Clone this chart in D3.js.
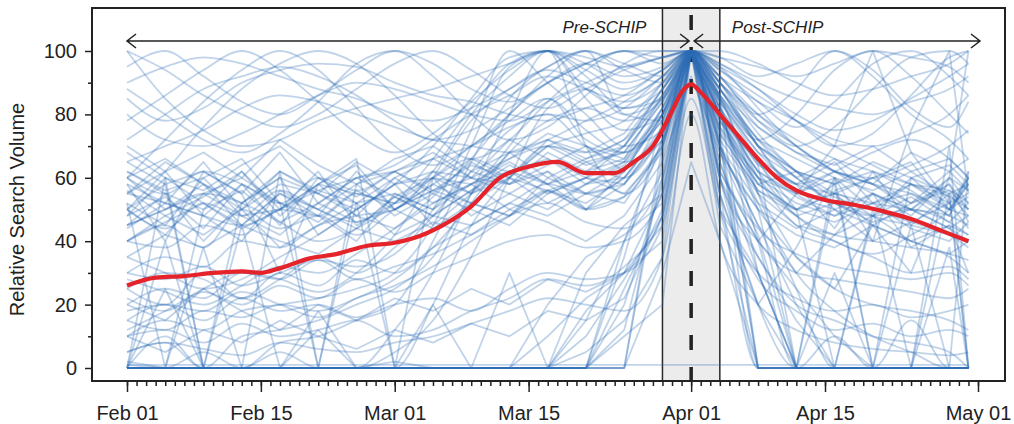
<!DOCTYPE html>
<html>
<head>
<meta charset="utf-8">
<script src="https://cdn.jsdelivr.net/npm/d3@7"></script>
<style>
  body { margin: 0; background: #fff; }
  svg { display: block; font-family: "Liberation Sans", Arial, Helvetica, sans-serif; }
  .tick line { stroke: #222; stroke-width: 1.5; }
  .tick text { fill: #222; font-size: 20px; }
</style>
</head>
<body>
<svg id="chart" width="1014" height="424"></svg>
<script>
'use strict';

// ---- Data -------------------------------------------------------------------

// Sampling days for the individual search-term series (2009).
const sampleDays = [
  '2009-02-01', '2009-02-05', '2009-02-09', '2009-02-13', '2009-02-17', '2009-02-21',
  '2009-02-25', '2009-03-01', '2009-03-05', '2009-03-09', '2009-03-13', '2009-03-17',
  '2009-03-21', '2009-03-25', '2009-03-29', '2009-04-01', '2009-04-04', '2009-04-08',
  '2009-04-12', '2009-04-16', '2009-04-20', '2009-04-24', '2009-04-28', '2009-04-30'
];

// Terms that sit at zero most of the time and spike.
const zeroSpikeSeries = [
  [0, 0, 0, 45, 0, 0, 0, 0, 0, 0, 0, 0, 0, 25, 50, 100, 65, 30, 0, 0, 0, 0, 0, 0],
  [0, 60, 0, 0, 0, 0, 52, 0, 0, 0, 0, 0, 15, 40, 62, 100, 70, 45, 20, 0, 0, 0, 55, 0],
  [2, 0, 0, 0, 0, 0, 0, 0, 0, 0, 30, 0, 0, 0, 70, 100, 72, 0, 0, 0, 0, 0, 0, 0],
  [0, 0, 38, 0, 0, 0, 0, 0, 0, 0, 0, 0, 0, 20, 58, 100, 80, 50, 0, 0, 0, 45, 0, 0],
  [0, 0, 0, 0, 0, 0, 0, 0, 0, 0, 0, 10, 22, 30, 40, 100, 60, 35, 15, 0, 0, 0, 0, 0],
  [1, 0, 0, 0, 0, 0, 0, 2, 0, 0, 0, 0, 0, 0, 66, 100, 75, 0, 0, 30, 0, 0, 0, 0],
  [0, 0, 0, 0, 62, 0, 0, 0, 0, 0, 0, 0, 30, 45, 55, 100, 62, 40, 25, 10, 0, 0, 0, 62],
  [0, 0, 0, 0, 0, 0, 0, 0, 20, 0, 0, 0, 0, 0, 30, 65, 40, 0, 0, 0, 0, 0, 0, 0],
  [0, 25, 0, 0, 0, 0, 0, 0, 0, 0, 0, 0, 0, 40, 72, 100, 55, 20, 0, 0, 0, 0, 0, 0],
  [0, 0, 0, 0, 0, 18, 0, 0, 0, 0, 0, 0, 10, 28, 48, 100, 68, 42, 0, 0, 0, 0, 38, 0],
  [0, 0, 0, 0, 0, 0, 0, 0, 0, 0, 0, 0, 0, 35, 78, 100, 84, 0, 0, 0, 0, 0, 0, 0],
  [0, 0, 0, 0, 0, 0, 0, 0, 0, 0, 0, 20, 35, 42, 52, 100, 50, 30, 0, 0, 50, 0, 0, 0],
  [1, 1, 1, 1, 1, 1, 1, 1, 1, 1, 1, 1, 1, 1, 1, 1, 1, 1, 1, 1, 1, 1, 1, 1],
  [0, 40, 0, 0, 0, 0, 0, 0, 0, 0, 0, 0, 0, 12, 60, 100, 85, 30, 0, 0, 0, 0, 0, 0]
];

// Terms that climb through March, peak mid-month and again on Apr 01.
const riserSeries = [
  [10, 15, 12, 18, 20, 22, 25, 30, 45, 70, 95, 100, 85, 75, 80, 100, 85, 60, 45, 40, 35, 30, 32, 28],
  [0, 0, 5, 0, 8, 10, 15, 20, 40, 65, 85, 95, 100, 80, 78, 100, 90, 70, 55, 50, 45, 40, 35, 30],
  [25, 20, 30, 22, 28, 35, 30, 38, 50, 75, 100, 90, 80, 70, 75, 100, 80, 65, 50, 55, 48, 45, 42, 40],
  [5, 8, 0, 10, 12, 15, 20, 25, 35, 55, 70, 85, 75, 68, 80, 100, 88, 72, 60, 52, 48, 50, 46, 42],
  [0, 0, 0, 0, 0, 0, 0, 0, 20, 45, 60, 70, 65, 60, 75, 100, 70, 50, 35, 25, 20, 18, 15, 12],
  [30, 35, 32, 40, 38, 45, 48, 50, 62, 80, 92, 100, 88, 82, 85, 100, 92, 80, 70, 62, 58, 55, 50, 48],
  [15, 12, 18, 16, 20, 18, 22, 28, 38, 52, 68, 78, 82, 78, 85, 100, 95, 82, 70, 62, 55, 50, 44, 40],
  [0, 10, 0, 0, 5, 0, 0, 12, 30, 55, 80, 100, 70, 55, 70, 100, 60, 35, 20, 15, 10, 8, 5, 0],
  [40, 38, 45, 42, 50, 48, 55, 52, 60, 70, 78, 85, 72, 68, 82, 100, 85, 68, 58, 55, 52, 50, 48, 45],
  [20, 25, 22, 30, 28, 34, 32, 36, 48, 62, 75, 80, 70, 65, 72, 100, 78, 60, 48, 42, 40, 38, 36, 34],
  [35, 30, 25, 28, 35, 42, 50, 58, 70, 85, 98, 100, 92, 82, 88, 100, 82, 62, 48, 40, 36, 42, 50, 58],
  [12, 18, 25, 30, 28, 24, 30, 42, 60, 78, 88, 94, 90, 86, 92, 100, 90, 74, 62, 54, 50, 46, 42, 38],
  [45, 50, 55, 52, 46, 40, 44, 52, 66, 82, 96, 100, 94, 88, 94, 100, 88, 70, 58, 62, 68, 72, 66, 60],
  [0, 0, 0, 0, 0, 0, 0, 5, 15, 35, 60, 82, 88, 80, 86, 100, 80, 52, 30, 18, 10, 5, 0, 0],
  [28, 24, 20, 26, 32, 30, 36, 44, 54, 66, 80, 90, 96, 92, 95, 100, 94, 86, 78, 70, 64, 58, 54, 50],
  [55, 52, 48, 45, 50, 56, 60, 64, 72, 80, 86, 92, 88, 84, 90, 100, 90, 80, 72, 66, 62, 58, 56, 52]
];

// Noisy terms hovering around 40-70.
const midBandSeries = [
  [55, 62, 48, 58, 45, 60, 52, 55, 50, 58, 62, 55, 60, 65, 78, 100, 80, 62, 55, 60, 50, 58, 52, 55],
  [60, 50, 58, 45, 55, 48, 62, 50, 56, 52, 48, 60, 55, 62, 80, 100, 75, 58, 62, 50, 55, 48, 60, 52],
  [45, 55, 40, 52, 60, 42, 50, 58, 45, 55, 60, 52, 58, 60, 75, 100, 82, 65, 50, 58, 62, 45, 55, 48],
  [52, 45, 60, 48, 50, 62, 45, 52, 60, 48, 55, 62, 50, 58, 72, 100, 85, 70, 60, 52, 48, 60, 50, 58],
  [65, 58, 62, 55, 68, 52, 60, 62, 55, 65, 58, 68, 62, 70, 85, 100, 78, 60, 55, 62, 58, 52, 62, 56],
  [40, 48, 42, 50, 38, 45, 52, 42, 48, 45, 52, 48, 55, 52, 70, 100, 72, 55, 45, 42, 48, 40, 45, 42],
  [58, 52, 65, 50, 58, 55, 48, 60, 52, 58, 65, 58, 50, 62, 80, 100, 88, 72, 62, 55, 60, 65, 50, 60],
  [48, 60, 52, 45, 55, 50, 58, 48, 55, 50, 45, 55, 60, 55, 68, 100, 76, 60, 52, 48, 55, 50, 58, 46],
  [62, 55, 50, 62, 48, 58, 55, 52, 62, 60, 55, 50, 58, 65, 82, 100, 82, 64, 58, 65, 52, 55, 48, 62],
  [50, 42, 55, 60, 52, 48, 40, 55, 50, 62, 58, 62, 55, 58, 74, 100, 80, 58, 50, 55, 45, 52, 56, 50],
  [55, 65, 58, 52, 62, 55, 65, 58, 60, 55, 62, 58, 65, 68, 84, 100, 86, 70, 62, 58, 65, 60, 55, 58],
  [35, 42, 38, 45, 40, 36, 44, 40, 46, 42, 50, 46, 40, 48, 65, 92, 68, 50, 42, 38, 45, 40, 36, 40],
  [70, 62, 68, 60, 72, 64, 58, 66, 70, 62, 68, 72, 66, 70, 86, 100, 90, 76, 68, 64, 70, 62, 66, 60],
  [45, 50, 55, 48, 42, 52, 46, 50, 44, 52, 48, 56, 50, 54, 70, 100, 74, 56, 48, 52, 46, 50, 44, 48],
  [58, 40, 62, 55, 30, 58, 64, 50, 58, 66, 60, 70, 64, 68, 84, 100, 84, 66, 58, 44, 62, 56, 48, 60],
  [50, 58, 0, 52, 60, 55, 50, 58, 62, 55, 68, 60, 66, 72, 88, 100, 80, 64, 0, 56, 60, 52, 58, 50],
  [62, 56, 60, 66, 52, 0, 58, 62, 56, 64, 60, 72, 68, 74, 90, 100, 88, 70, 62, 58, 0, 60, 64, 58],
  [44, 52, 48, 40, 56, 50, 44, 54, 48, 56, 64, 58, 62, 66, 80, 100, 76, 58, 50, 46, 52, 44, 40, 46],
  [56, 48, 54, 62, 50, 58, 66, 0, 60, 58, 66, 74, 70, 62, 82, 100, 86, 72, 66, 60, 56, 62, 54, 0],
  [68, 60, 56, 64, 70, 60, 54, 62, 68, 60, 72, 66, 60, 70, 88, 100, 92, 78, 70, 62, 58, 68, 62, 66],
  [40, 46, 52, 44, 50, 58, 48, 44, 52, 58, 50, 56, 60, 58, 74, 100, 70, 52, 44, 50, 40, 46, 52, 44],
  [52, 0, 50, 56, 46, 52, 60, 54, 48, 56, 62, 66, 58, 64, 78, 100, 74, 56, 50, 0, 48, 54, 46, 52],
  [60, 66, 58, 50, 62, 56, 52, 60, 66, 60, 58, 64, 70, 66, 86, 100, 84, 68, 60, 66, 58, 50, 60, 56],
  [48, 54, 44, 58, 52, 46, 56, 50, 58, 52, 60, 56, 52, 60, 76, 100, 78, 62, 54, 48, 52, 58, 50, 54]
];

// Low, smooth terms.
const lowSeries = [
  [18, 20, 15, 22, 18, 20, 16, 20, 22, 18, 25, 30, 28, 30, 45, 85, 50, 30, 22, 18, 20, 16, 18, 20],
  [10, 12, 8, 14, 10, 12, 15, 10, 12, 18, 22, 28, 26, 32, 48, 90, 55, 28, 18, 12, 14, 10, 12, 10],
  [22, 18, 24, 20, 26, 22, 28, 24, 30, 35, 40, 42, 38, 40, 55, 100, 60, 40, 30, 28, 26, 24, 22, 25],
  [5, 8, 6, 4, 8, 6, 5, 8, 10, 14, 18, 22, 20, 18, 35, 80, 40, 20, 12, 8, 6, 5, 4, 5],
  [30, 28, 32, 26, 30, 34, 28, 32, 36, 42, 48, 52, 46, 44, 60, 100, 65, 44, 36, 32, 30, 28, 30, 26]
];

// High, slowly varying terms.
const highSeries = [
  [100, 85, 75, 70, 72, 78, 82, 85, 88, 92, 96, 100, 98, 95, 98, 100, 96, 90, 85, 82, 80, 84, 88, 92],
  [90, 95, 98, 96, 92, 88, 85, 80, 78, 82, 88, 95, 100, 96, 92, 100, 95, 88, 80, 75, 78, 85, 92, 96],
  [80, 72, 70, 74, 80, 86, 90, 88, 84, 80, 78, 84, 90, 95, 98, 100, 98, 95, 92, 96, 100, 98, 95, 90],
  [72, 80, 88, 92, 95, 92, 86, 78, 72, 75, 82, 90, 96, 100, 100, 100, 100, 96, 90, 86, 88, 92, 96, 100],
  [85, 78, 82, 90, 94, 96, 95, 90, 86, 84, 80, 78, 82, 86, 94, 100, 92, 84, 78, 72, 70, 74, 80, 86],
  [65, 70, 75, 82, 86, 84, 80, 76, 72, 70, 68, 72, 78, 84, 92, 100, 88, 76, 68, 62, 60, 64, 70, 75],
  [95, 100, 92, 84, 80, 86, 94, 100, 96, 88, 84, 90, 96, 100, 98, 100, 94, 84, 76, 84, 96, 100, 92, 86],
  [60, 72, 84, 94, 100, 94, 82, 70, 64, 70, 80, 92, 100, 94, 90, 100, 86, 72, 80, 94, 100, 92, 80, 74],
  [100, 94, 86, 80, 76, 80, 88, 96, 100, 94, 86, 82, 88, 94, 98, 100, 90, 78, 70, 76, 88, 98, 100, 96],
  [50, 62, 76, 88, 96, 100, 96, 86, 74, 66, 72, 84, 94, 100, 96, 100, 92, 80, 88, 100, 94, 82, 76, 84],
  [78, 86, 94, 100, 94, 84, 74, 68, 74, 84, 94, 100, 96, 90, 94, 100, 96, 88, 78, 70, 74, 86, 98, 100],
  [88, 80, 72, 68, 74, 84, 96, 100, 92, 80, 72, 76, 86, 96, 100, 100, 98, 92, 96, 100, 92, 80, 72, 66]
];

// Terms that wake up around Apr 01 and stay active in April.
const lateSeries = [
  [0, 0, 0, 0, 0, 0, 0, 0, 0, 0, 0, 0, 18, 30, 45, 100, 45, 20, 38, 60, 40, 75, 100, 55],
  [20, 15, 25, 18, 12, 20, 15, 22, 18, 25, 20, 28, 24, 30, 55, 100, 62, 40, 55, 70, 100, 68, 52, 60],
  [0, 0, 0, 0, 0, 0, 0, 0, 0, 0, 0, 0, 0, 10, 20, 100, 80, 55, 35, 25, 45, 30, 60, 100],
  [10, 5, 12, 8, 15, 10, 6, 12, 8, 14, 10, 18, 15, 22, 48, 100, 70, 45, 30, 42, 55, 38, 45, 30],
  [0, 0, 0, 0, 0, 12, 0, 0, 0, 0, 0, 0, 5, 15, 35, 100, 50, 0, 0, 60, 0, 0, 70, 0]
];

// Terms that fall silent after the first week of April.
const fadeSeries = [
  [40, 45, 38, 50, 44, 48, 42, 50, 56, 60, 66, 70, 68, 72, 88, 100, 70, 0, 0, 10, 0, 0, 0, 0],
  [25, 30, 28, 22, 30, 26, 34, 30, 38, 45, 52, 58, 55, 60, 80, 100, 60, 20, 0, 0, 0, 15, 0, 0],
  [50, 44, 52, 48, 56, 50, 46, 54, 60, 66, 62, 70, 74, 78, 90, 100, 82, 40, 0, 0, 0, 0, 0, 0],
  [15, 20, 18, 24, 20, 16, 22, 26, 32, 40, 48, 56, 50, 54, 72, 100, 55, 0, 0, 0, 0, 0, 0, 0],
  [60, 55, 62, 58, 52, 60, 56, 62, 66, 70, 76, 80, 78, 82, 92, 100, 86, 55, 25, 0, 0, 0, 0, 0]
];

// Average across all terms (red line).
const meanDays = [
  '2009-02-01', '2009-02-04', '2009-02-07', '2009-02-10', '2009-02-13', '2009-02-15',
  '2009-02-17', '2009-02-20', '2009-02-23', '2009-02-26', '2009-03-01', '2009-03-03',
  '2009-03-06', '2009-03-09', '2009-03-12', '2009-03-15', '2009-03-18', '2009-03-21',
  '2009-03-24', '2009-03-26', '2009-03-28', '2009-03-30', '2009-03-31', '2009-04-01',
  '2009-04-02', '2009-04-04', '2009-04-06', '2009-04-08', '2009-04-10', '2009-04-12',
  '2009-04-15', '2009-04-18', '2009-04-21', '2009-04-24', '2009-04-27', '2009-04-30'
];
const meanValues = [
  26, 28.5, 29, 30, 30.5, 30, 31.5, 34.5, 36, 38.5, 39.5, 41,
  45, 51, 60, 63.5, 65, 61.5, 61.5, 65, 70, 81, 87, 89.5,
  87, 80, 73, 66, 60, 56, 53, 51.5, 49.5, 47, 43.5, 40
];

// Axis ticks and annotations.
const yMajorTicks = [0, 20, 40, 60, 80, 100];
const yMinorTicks = [10, 30, 50, 70, 90];
const xMajorTicks = ['2009-02-01', '2009-02-15', '2009-03-01', '2009-03-15', '2009-04-01', '2009-04-15', '2009-05-01'];
const xTickLabels = ['Feb 01', 'Feb 15', 'Mar 01', 'Mar 15', 'Apr 01', 'Apr 15', 'May 01'];
const eventDay = '2009-04-01';
const windowDays = ['2009-03-29', '2009-04-04'];
const periodLabels = ['Pre-SCHIP', 'Post-SCHIP'];

// ---- Setup ------------------------------------------------------------------

const parse = d3.utcParse('%Y-%m-%d');
const svg = d3.select('#chart');

const FRAME = { left: 92, right: 1005, top: 8, bottom: 381 };

const x = d3.scaleUtc()
  .domain([parse('2009-02-01'), parse('2009-05-01')])
  .range([127, 978]);
const y = d3.scaleLinear()
  .domain([0, 100])
  .range([368, 51]);

const days = sampleDays.map(parse);
const xEvent = x(parse(eventDay));

// ---- Event window -----------------------------------------------------------

const wx0 = x(parse(windowDays[0])), wx1 = x(parse(windowDays[1]));
svg.append('rect')
  .attr('x', wx0).attr('y', FRAME.top)
  .attr('width', wx1 - wx0).attr('height', FRAME.bottom - FRAME.top)
  .attr('fill', '#ececec');

svg.selectAll('.win-edge')
  .data([wx0, wx1])
  .join('line')
  .attr('class', 'win-edge')
  .attr('x1', d => d).attr('x2', d => d)
  .attr('y1', FRAME.top).attr('y2', FRAME.bottom)
  .attr('stroke', '#2a2a2a').attr('stroke-width', 1.5);

svg.append('line')
  .attr('x1', xEvent).attr('x2', xEvent)
  .attr('y1', FRAME.top).attr('y2', FRAME.bottom)
  .attr('stroke', '#222').attr('stroke-width', 3.5)
  .attr('stroke-dasharray', '15,17')
  .attr('stroke-dashoffset', 25);

// ---- Term series ------------------------------------------------------------

const lineLinear = d3.line().x((d, i) => x(days[i])).y(d => y(d)).curve(d3.curveLinear);
const lineSmooth = d3.line().x((d, i) => x(days[i])).y(d => y(d)).curve(d3.curveMonotoneX);

const groups = [
  { data: zeroSpikeSeries, gen: lineLinear },
  { data: riserSeries,     gen: lineSmooth },
  { data: midBandSeries,   gen: lineLinear },
  { data: lowSeries,       gen: lineSmooth },
  { data: highSeries,      gen: lineSmooth },
  { data: lateSeries,      gen: lineLinear },
  { data: fadeSeries,      gen: lineSmooth }
];

const termGroup = svg.append('g').attr('class', 'terms');
groups.forEach(g => {
  termGroup.append('g').selectAll('path')
    .data(g.data)
    .join('path')
    .attr('d', d => g.gen(d))
    .attr('fill', 'none')
    .attr('stroke', '#2f6db5')
    .attr('stroke-opacity', 0.3)
    .attr('stroke-width', 1.8)
    .attr('stroke-linejoin', 'round');
});

// ---- Mean line --------------------------------------------------------------

const meanLine = d3.line()
  .x((d, i) => x(parse(meanDays[i])))
  .y(d => y(d))
  .curve(d3.curveMonotoneX);

svg.append('path')
  .attr('d', meanLine(meanValues))
  .attr('fill', 'none')
  .attr('stroke', '#e5232a')
  .attr('stroke-width', 4.2)
  .attr('stroke-linejoin', 'round');

// ---- Frame & axes -----------------------------------------------------------

svg.append('rect')
  .attr('x', FRAME.left).attr('y', FRAME.top)
  .attr('width', FRAME.right - FRAME.left).attr('height', FRAME.bottom - FRAME.top)
  .attr('fill', 'none').attr('stroke', '#222').attr('stroke-width', 2);

const yAxis = svg.append('g')
  .attr('transform', `translate(${FRAME.left},0)`)
  .call(d3.axisLeft(y).tickValues(yMajorTicks).tickSize(7).tickPadding(8));
yAxis.select('.domain').remove();

const yMinor = svg.append('g')
  .attr('transform', `translate(${FRAME.left},0)`)
  .call(d3.axisLeft(y).tickValues(yMinorTicks).tickSize(4).tickFormat(''));
yMinor.select('.domain').remove();

const xMajor = xMajorTicks.map(parse);
const xAxis = svg.append('g')
  .attr('transform', `translate(0,${FRAME.bottom})`)
  .call(d3.axisBottom(x).tickValues(xMajor).tickSize(11).tickPadding(14)
    .tickFormat((d, i) => xTickLabels[i]));
xAxis.select('.domain').remove();

const xMinor = svg.append('g')
  .attr('transform', `translate(0,${FRAME.bottom})`)
  .call(d3.axisBottom(x)
    .tickValues(d3.utcDay.range(parse('2009-02-01'), parse('2009-05-02')))
    .tickSize(5).tickFormat(''));
xMinor.select('.domain').remove();

svg.append('text')
  .attr('transform', `translate(24,${y(50)}) rotate(-90)`)
  .attr('text-anchor', 'middle')
  .attr('fill', '#222')
  .style('font-size', '20px')
  .text('Relative Search Volume');

// ---- Period arrows ----------------------------------------------------------

const ARROW_Y = 41;
function arrow(x0, x1) {
  const h = 9, w = 7;
  return `M${x0},${ARROW_Y}L${x1},${ARROW_Y}` +
    `M${x0 + h},${ARROW_Y - w}L${x0},${ARROW_Y}L${x0 + h},${ARROW_Y + w}` +
    `M${x1 - h},${ARROW_Y - w}L${x1},${ARROW_Y}L${x1 - h},${ARROW_Y + w}`;
}

const arrows = [
  [x(parse('2009-02-01')), xEvent - 2],
  [xEvent + 3, x(parse('2009-05-01')) + 2]
];
svg.selectAll('.period-arrow')
  .data(arrows)
  .join('path')
  .attr('class', 'period-arrow')
  .attr('d', d => arrow(d[0], d[1]))
  .attr('fill', 'none')
  .attr('stroke', '#222')
  .attr('stroke-width', 1.5);

svg.append('text')
  .attr('x', wx0 - 16).attr('y', 33)
  .attr('text-anchor', 'end')
  .attr('fill', '#222')
  .style('font-size', '17px').style('font-style', 'italic')
  .text(periodLabels[0]);

svg.append('text')
  .attr('x', wx1 + 12).attr('y', 33)
  .attr('text-anchor', 'start')
  .attr('fill', '#222')
  .style('font-size', '17px').style('font-style', 'italic')
  .text(periodLabels[1]);
</script>
</body>
</html>
